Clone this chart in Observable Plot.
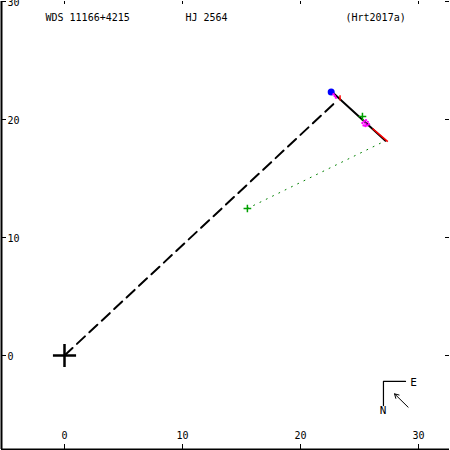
<!DOCTYPE html>
<html><head><meta charset="utf-8">
<script src="https://cdn.jsdelivr.net/npm/d3@7"></script>
<script src="https://cdn.jsdelivr.net/npm/@observablehq/plot@0.6"></script>
<style>body{margin:0;background:#fff}</style>
</head><body><div id="chart"></div>
<script>
// tick values
const xTicks = [0, 10, 20, 30];
const yTicks = [0, 10, 20, 30];
// header texts
const titles = ["WDS 11166+4215", "HJ 2564", "(Hrt2017a)"];
// orbit arc (arcsec)
const orbitX = [22.7, 24.95, 27.2];
const orbitY = [22.3, 20.25, 18.2];
// dashed line (primary to node)
const dashX = [0, 23.1];
const dashY = [0, 21.6];
// dotted line (first measure to predicted)
const dotX = [15.5, 27.2];
const dotY = [12.46, 18.2];
// measurements
const greenX = [15.5, 25.25];
const greenY = [12.46, 20.25];
const blueX = [22.6];
const blueY = [22.32];
const magentaX = [22.8, 22.9, 23.0, 25.25, 25.4, 25.55, 25.7, 25.8, 25.5, 25.35, 25.65, 25.5];
const magentaY = [22.15, 22.0, 21.85, 19.7, 19.85, 19.95, 19.8, 19.6, 19.45, 19.5, 19.5, 19.65];
// red residual segments [x1,y1,x2,y2]
const redX1 = [23.35, 26.1];
const redY1 = [22.05, 19.24];
const redX2 = [23.35, 27.4];
const redY2 = [21.6, 18.12];
// compass
const compassX = [28.9, 27.03, 27.03];
const compassY = [-2.2, -2.2, -4.24];
const compassLabels = ["E", "N"];
const compassLabelX = [29.58, 26.99];
const compassLabelY = [-2.25, -4.70];
const arrowX = [29.12, 27.97];
const arrowY = [-4.38, -3.25];

const xDom = [-5.339, 32.627];
const yDom = [-7.966, 30];
const font = "DejaVu Sans Mono, monospace";

const pts = (xs, ys) => xs.map((x, i) => ({x, y: ys[i]}));
const segs = redX1.map((x1, i) => ({x1, y1: redY1[i], x2: redX2[i], y2: redY2[i]}));

const chart = Plot.plot({
  width: 450, height: 450,
  marginLeft: 1, marginRight: 1, marginTop: 1, marginBottom: 1,
  x: {domain: xDom, axis: null},
  y: {domain: yDom, axis: null},
  style: {fontFamily: font, fontSize: "10px", background: "#fff"},
  marks: [
    // frame
    Plot.ruleX([xDom[0]], {stroke: "black", strokeWidth: 2}),
    Plot.ruleY([yDom[0]], {stroke: "black", strokeWidth: 2}),
    // ticks
    Plot.tickX(xTicks, {x: d => d, insetTop: 443, stroke: "black"}),
    Plot.tickX(xTicks, {x: d => d, insetBottom: 445, stroke: "black"}),
    Plot.tickY(yTicks, {y: d => d, insetRight: 443, stroke: "black"}),
    Plot.tickY(yTicks, {y: d => d, insetLeft: 444, stroke: "black"}),
    Plot.text(xTicks, {x: d => d, frameAnchor: "bottom", dy: -13.5, lineAnchor: "middle", text: d => String(d), fill: "black"}),
    Plot.text(yTicks, {y: d => d, frameAnchor: "left", dx: 6, dy: 1, textAnchor: "start", lineAnchor: "middle", text: d => String(d), fill: "black"}),
    // titles
    Plot.text([titles[0]], {frameAnchor: "top-left", dx: 44, dy: 16, textAnchor: "start", lineAnchor: "middle", text: d => d, fill: "black"}),
    Plot.text([titles[1]], {frameAnchor: "top-left", dx: 184, dy: 16, textAnchor: "start", lineAnchor: "middle", text: d => d, fill: "black"}),
    Plot.text([titles[2]], {frameAnchor: "top-left", dx: 344, dy: 16, textAnchor: "start", lineAnchor: "middle", text: d => d, fill: "black"}),
    // dashed line
    Plot.line(pts(dashX, dashY), {x: "x", y: "y", stroke: "black", strokeWidth: 2, strokeDasharray: "11,6"}),
    // dotted line
    Plot.line(pts(dotX, dotY), {x: "x", y: "y", stroke: "#008000", strokeWidth: 1, strokeDasharray: "1,6"}),
    // orbit
    Plot.line(pts(orbitX, orbitY), {x: "x", y: "y", stroke: "black", strokeWidth: 2}),
    // residuals
    Plot.link(segs, {x1: "x1", y1: "y1", x2: "x2", y2: "y2", stroke: "red", strokeWidth: 1.5}),
    // measurements
    Plot.dot(pts(blueX, blueY), {x: "x", y: "y", r: 3.5, fill: "blue", stroke: "none"}),
    Plot.dot(pts(magentaX, magentaY), {x: "x", y: "y", r: 1.2, fill: "magenta", stroke: "none"}),
    Plot.dot(pts(greenX, greenY), {x: "x", y: "y", symbol: "plus", r: 2.6, stroke: "#00a000", strokeWidth: 1.5}),
    // primary
    Plot.dot([{x: 0, y: 0}], {x: "x", y: "y", symbol: "plus", r: 7.5, stroke: "black", strokeWidth: 2.5}),
    // compass
    Plot.line(pts(compassX, compassY), {x: "x", y: "y", stroke: "black", strokeWidth: 1.2}),
    Plot.text(compassLabels, {x: (d, i) => compassLabelX[i], y: (d, i) => compassLabelY[i], text: d => d, fontSize: 11, fill: "black"}),
    Plot.arrow([{x1: arrowX[0], y1: arrowY[0], x2: arrowX[1], y2: arrowY[1]}], {x1: "x1", y1: "y1", x2: "x2", y2: "y2", stroke: "black", strokeWidth: 1, headLength: 7})
  ]
});
document.getElementById("chart").append(chart);
</script></body></html>
